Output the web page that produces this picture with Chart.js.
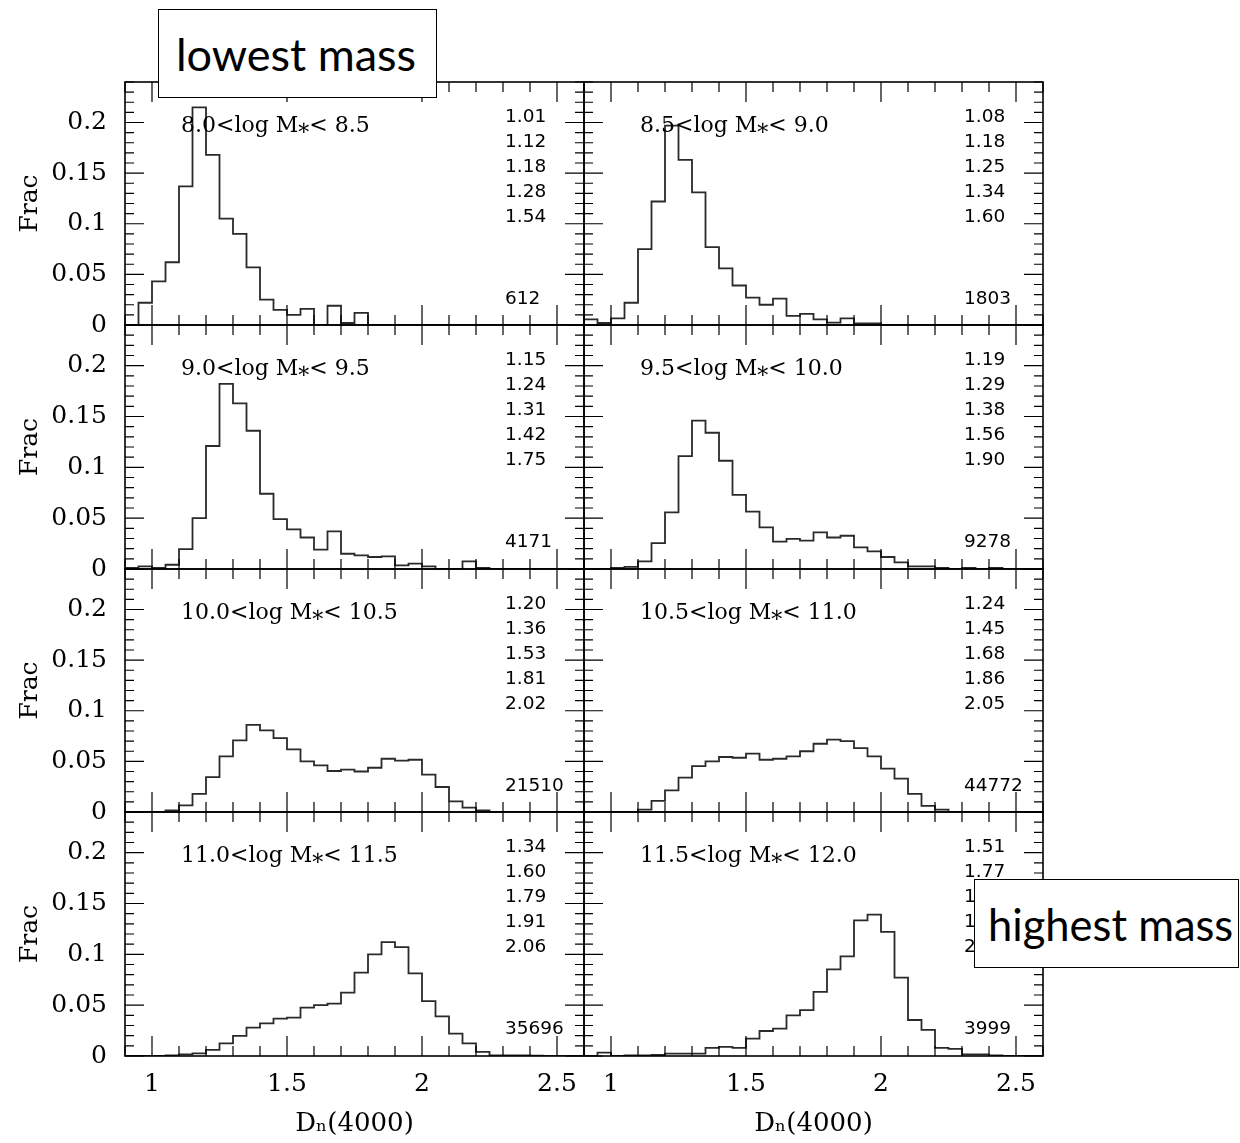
<!DOCTYPE html>
<html>
<head>
<meta charset="utf-8">
<script src="https://cdn.jsdelivr.net/npm/chart.js@4.4.1/dist/chart.umd.min.js"></script>
<style>
  html, body { margin: 0; padding: 0; background: #fff; }
  #page { position: relative; width: 1240px; height: 1143px; overflow: hidden; background: #fff; }
  #page canvas { position: absolute; z-index: 1; }
  .tag {
    position: absolute; z-index: 5; background: #fff; border: 1.5px solid #000;
    box-sizing: border-box; display: flex; align-items: center;
    font-family: Lato, "Open Sans", sans-serif; color: #000; white-space: nowrap;
  }
</style>
</head>
<body>
<div id="page">
  <div class="tag" style="left:158px;top:9px;width:279px;height:89px;padding-left:17px;font-size:45px;">lowest mass</div>
  <div class="tag" style="left:974px;top:879px;width:265px;height:89px;padding-left:13px;font-size:43.5px;">highest mass</div>
</div>
<script>
// bin edges of the D4000 histograms
const binEdges = [0.90, 0.95, 1.00, 1.05, 1.10, 1.15, 1.20, 1.25, 1.30, 1.35, 1.40, 1.45,
  1.50, 1.55, 1.60, 1.65, 1.70, 1.75, 1.80, 1.85, 1.90, 1.95, 2.00, 2.05, 2.10, 2.15,
  2.20, 2.25, 2.30, 2.35, 2.40, 2.45, 2.50, 2.55, 2.60];

// fraction per bin, one array per stellar mass range
const frac80 = [0, 0.022, 0.043, 0.062, 0.137, 0.215, 0.168, 0.105, 0.090, 0.057, 0.025, 0.015,
  0.010, 0.016, 0, 0.019, 0.002, 0.012, 0, 0, 0, 0, 0, 0, 0, 0, 0, 0, 0, 0, 0, 0, 0, 0];
const frac85 = [0.0056, 0.002, 0.0066, 0.022, 0.075, 0.122, 0.197, 0.163, 0.131, 0.077, 0.056, 0.039,
  0.027, 0.020, 0.026, 0.009, 0.011, 0.0056, 0.0023, 0.0066, 0.0016, 0.0016, 0, 0, 0, 0, 0, 0, 0, 0, 0, 0, 0, 0];
const frac90 = [0.001, 0.0026, 0.001, 0.0042, 0.0196, 0.050, 0.121, 0.182, 0.163, 0.136, 0.074, 0.049,
  0.039, 0.031, 0.019, 0.037, 0.015, 0.0134, 0.0118, 0.0124, 0.0036, 0.0052, 0.0026, 0, 0, 0.0075,
  0.001, 0, 0, 0, 0, 0, 0, 0];
const frac95 = [0, 0, 0.001, 0.002, 0.0075, 0.0255, 0.0556, 0.111, 0.146, 0.134, 0.1065, 0.073,
  0.0565, 0.041, 0.027, 0.0297, 0.028, 0.036, 0.031, 0.0327, 0.0212, 0.0173, 0.0118, 0.0065, 0.0026, 0.0026,
  0.001, 0, 0.001, 0, 0.001, 0, 0, 0];
const frac100 = [0, 0, 0, 0.0016, 0.0066, 0.018, 0.0345, 0.055, 0.0707, 0.086, 0.0806, 0.073,
  0.0618, 0.050, 0.046, 0.0405, 0.0418, 0.040, 0.0437, 0.0526, 0.0507, 0.0516, 0.037, 0.0247, 0.0105, 0.0043,
  0.0016, 0, 0, 0, 0, 0, 0, 0];
const frac105 = [0, 0, 0, 0, 0.0023, 0.011, 0.0214, 0.034, 0.0454, 0.050, 0.0543, 0.0536,
  0.0576, 0.0516, 0.0526, 0.055, 0.060, 0.0674, 0.0714, 0.070, 0.063, 0.055, 0.0428, 0.033, 0.018, 0.006,
  0.0023, 0, 0, 0, 0, 0, 0, 0];
const frac110 = [0, 0, 0, 0.0007, 0.0016, 0.0026, 0.006, 0.0125, 0.0197, 0.0279, 0.032, 0.0367,
  0.0377, 0.0475, 0.050, 0.0515, 0.0623, 0.082, 0.100, 0.112, 0.107, 0.0813, 0.054, 0.039, 0.022, 0.0125,
  0.004, 0.0007, 0.0005, 0.0005, 0.0003, 0, 0, 0];
const frac115 = [0, 0.0033, 0, 0.0007, 0.0007, 0.001, 0.0023, 0.0023, 0.0023, 0.008, 0.009, 0.008,
  0.017, 0.0246, 0.027, 0.040, 0.0452, 0.063, 0.0852, 0.098, 0.1334, 0.139, 0.122, 0.077, 0.0354, 0.0256,
  0.008, 0.007, 0.0016, 0.0016, 0.0007, 0, 0, 0];

const massRanges = ["8.0<log M\u204E< 8.5", "8.5<log M\u204E< 9.0", "9.0<log M\u204E< 9.5", "9.5<log M\u204E< 10.0",
  "10.0<log M\u204E< 10.5", "10.5<log M\u204E< 11.0", "11.0<log M\u204E< 11.5", "11.5<log M\u204E< 12.0"];
const percentiles = [
  ["1.01", "1.12", "1.18", "1.28", "1.54"],
  ["1.08", "1.18", "1.25", "1.34", "1.60"],
  ["1.15", "1.24", "1.31", "1.42", "1.75"],
  ["1.19", "1.29", "1.38", "1.56", "1.90"],
  ["1.20", "1.36", "1.53", "1.81", "2.02"],
  ["1.24", "1.45", "1.68", "1.86", "2.05"],
  ["1.34", "1.60", "1.79", "1.91", "2.06"],
  ["1.51", "1.77", "1.91", "1.99", "2.09"]
];
const counts = ["612", "1803", "4171", "9278", "21510", "44772", "35696", "3999"];
const fracs = [frac80, frac85, frac90, frac95, frac100, frac105, frac110, frac115];

const xTickLabels = ["1", "1.5", "2", "2.5"];
const yTickLabels = ["0", "0.05", "0.1", "0.15", "0.2"];

// page layout of the 4x2 grid
const colLeft = [125, 584], colRight = [584, 1043];
const rowTop = [82, 325, 569, 812], rowBottom = [325, 569, 812, 1056];
const pctOffsets = [35, 60, 85, 110, 135];
const serif = "DejaVu Serif";

const fmtX = v => String(Math.round(v * 10) / 10);
const fmtY = v => String(Math.round(v * 100) / 100);

// outline of a histogram: left and right edge of every bin
function outline(vals) {
  const pts = [{ x: binEdges[0], y: 0 }];
  vals.forEach((v, i) => {
    pts.push({ x: binEdges[i], y: v });
    pts.push({ x: binEdges[i + 1], y: v });
  });
  pts.push({ x: binEdges[vals.length], y: 0 });
  return pts;
}

// frame, inward ticks on all sides, and the panel texts
const panelDeco = {
  id: "panelDeco",
  afterDatasetsDraw(chart, args, opts) {
    const { ctx, chartArea: a, scales: { x, y } } = chart;
    ctx.save();
    ctx.strokeStyle = "#000";
    ctx.beginPath();
    x.ticks.forEach(t => {
      const px = x.getPixelForValue(t.value);
      const len = xTickLabels.includes(fmtX(t.value)) ? 20 : 10;
      ctx.moveTo(px, a.bottom); ctx.lineTo(px, a.bottom - len);
      ctx.moveTo(px, a.top); ctx.lineTo(px, a.top + len);
    });
    y.ticks.forEach(t => {
      const py = y.getPixelForValue(t.value);
      const len = yTickLabels.includes(fmtY(t.value)) ? 19 : 9;
      ctx.moveTo(a.left, py); ctx.lineTo(a.left + len, py);
      ctx.moveTo(a.right, py); ctx.lineTo(a.right - len, py);
    });
    ctx.lineWidth = 1.2;
    ctx.stroke();
    ctx.lineWidth = 1.6;
    ctx.strokeRect(a.left, a.top, a.right - a.left, a.bottom - a.top);

    ctx.fillStyle = "#000";
    ctx.textBaseline = "middle";
    ctx.textAlign = "left";
    ctx.font = "22px " + JSON.stringify(serif);
    ctx.fillText(opts.title, a.left + 56, a.top + 44);
    ctx.font = '18.5px "DejaVu Sans"';
    opts.pcts.forEach((p, k) => ctx.fillText(p, a.left + 380, a.top + pctOffsets[k]));
    ctx.fillText(opts.count, a.left + 380, a.top + 217);
    ctx.restore();
  }
};

const page = document.getElementById("page");

fracs.forEach((vals, i) => {
  const row = Math.floor(i / 2), col = i % 2;
  const isBottom = row === 3, isLeft = col === 0;

  const cLeft = isLeft ? 0 : 560;
  const cWidth = isLeft ? 600 : 500;
  const cTop = rowTop[row] - 16;
  const cHeight = isBottom ? 1143 - cTop : rowBottom[row] - rowTop[row] + 32;

  const canvas = document.createElement("canvas");
  canvas.width = cWidth;
  canvas.height = cHeight;
  canvas.style.left = cLeft + "px";
  canvas.style.top = cTop + "px";
  page.appendChild(canvas);

  new Chart(canvas.getContext("2d"), {
    type: "scatter",
    data: {
      datasets: [{
        data: outline(vals),
        showLine: true,
        borderColor: "#2a2a2a",
        borderWidth: 1.8,
        pointRadius: 0,
        tension: 0,
        fill: false,
      }],
    },
    options: {
      responsive: false,
      animation: false,
      events: [],
      layout: {
        padding: {
          left: isLeft ? 0 : colLeft[1] - cLeft,
          right: cLeft + cWidth - colRight[col],
          top: 16,
          bottom: isBottom ? 0 : 16,
        },
      },
      scales: {
        x: {
          type: "linear",
          min: 0.9,
          max: 2.6,
          display: isBottom,
          grid: { display: false, drawTicks: false },
          border: { display: false },
          ticks: {
            stepSize: 0.1,
            autoSkip: false,
            maxRotation: 0,
            padding: 13,
            color: "#000",
            font: { family: serif, size: 25 },
            callback: v => (xTickLabels.includes(fmtX(v)) ? fmtX(v) : ""),
          },
          title: {
            display: true,
            text: "D\u2099(4000)",
            color: "#000",
            font: { family: serif, size: 26 },
            padding: { top: 0, bottom: 3 },
          },
          afterFit: s => {
            if (isBottom) s.height = 1143 - rowBottom[3];
            s.paddingLeft = 0; s.paddingRight = 0;
          },
        },
        y: {
          type: "linear",
          min: 0,
          max: 0.24,
          display: isLeft,
          grid: { display: false, drawTicks: false },
          border: { display: false },
          ticks: {
            stepSize: 0.01,
            autoSkip: false,
            padding: 18,
            color: "#000",
            font: { family: serif, size: 25 },
            callback: v => (yTickLabels.includes(fmtY(v)) ? fmtY(v) : ""),
          },
          title: {
            display: true,
            text: "Frac",
            color: "#000",
            font: { family: serif, size: 25 },
            padding: { top: 15, bottom: 0 },
          },
          afterFit: s => {
            if (isLeft) s.width = colLeft[0];
            s.paddingTop = 0; s.paddingBottom = 0;
          },
        },
      },
      plugins: {
        legend: { display: false },
        tooltip: { enabled: false },
        panelDeco: { title: massRanges[i], pcts: percentiles[i], count: counts[i] },
      },
    },
    plugins: [panelDeco],
  });
});
</script>
</body>
</html>
